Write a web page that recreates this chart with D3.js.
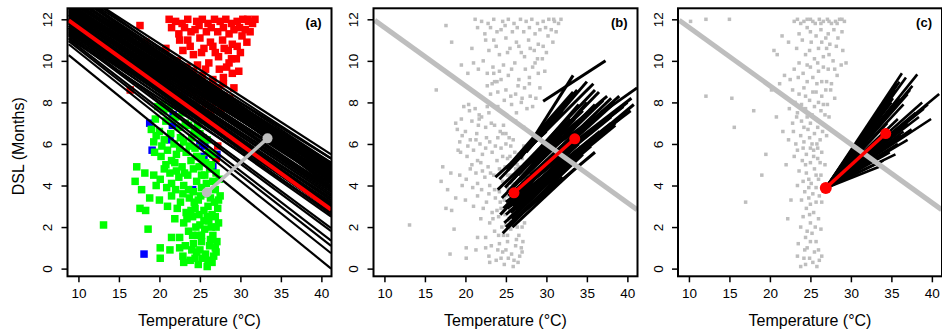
<!DOCTYPE html>
<html><head><meta charset="utf-8">
<script src="https://cdn.jsdelivr.net/npm/d3@7"></script>
<style>body{margin:0;background:#fff} svg{display:block} text{font-family:"Liberation Sans",Arial,sans-serif}</style>
</head><body><svg id="c" width="942" height="336"></svg>
<script>
// ---------- data ----------
const xLim = [8.65, 41.25];
const yLim = [-0.37, 12.53];
const xTicks = [10, 15, 20, 25, 30, 35, 40];
const yTicks = [0, 2, 4, 6, 8, 10, 12];
const panelLabels = ["(a)", "(b)", "(c)"];
const xTitle = "Temperature (\u00B0C)";
const yTitle = "DSL (Months)";

// panel (a) observations [temperature, DSL]
const redPts = [
 [22.0,11.9],[22.8,11.8],[23.5,12.0],[24.6,11.9],[25.3,12.0],[26.0,11.8],[26.8,12.0],[27.5,11.9],[28.2,12.0],[28.9,11.8],
 [29.6,11.9],[30.3,12.0],[31.0,11.9],[31.5,11.8],[30.6,11.5],[29.2,11.5],[27.2,11.4],[25.8,11.4],[24.4,11.5],
 [23.5,11.0],[25.0,11.1],[26.3,10.9],[27.8,11.0],[29.0,10.8],[30.2,11.2],[28.5,10.5],[26.9,10.4],[25.5,10.6],[24.2,10.3],[22.9,10.5],[30.0,10.4],
 [21.0,9.9],[22.2,10.0],[23.4,9.7],[24.7,9.8],[26.1,9.9],[27.4,9.6],[28.6,9.9],[29.5,10.1],[25.3,9.3],[26.6,9.1],[27.9,9.2],[29.0,9.4],[23.9,9.0],[20.3,9.4],[19.5,9.8],
 [22.7,8.8],[25.0,8.6],[26.2,8.4],[27.3,8.7],[28.0,8.3],[26.9,8.0],[28.7,8.2],[27.6,7.7],[25.7,7.9],[24.8,8.1],[27.2,6.8],[27.0,5.3],[27.2,5.9],
 [17.6,11.7],[18.3,10.9],[16.4,8.6],
 [21.5,11.6],[22.4,11.3],[23.1,11.6],[23.9,11.4],[24.9,11.7],[26.4,11.6],[27.9,11.6],[28.6,11.3],[29.9,11.6],[31.2,11.4],
 [30.8,10.9],[29.6,10.7],[28.0,10.6],[26.6,10.7],[25.2,10.4],[23.8,10.7],[22.5,11.0],[27.3,10.2],[28.9,10.1],[25.7,9.6],
 [24.2,9.5],[22.7,9.4],[21.6,9.6],[28.3,9.7],[29.8,9.5],[26.5,8.8],[27.9,8.9],[24.0,8.5],[23.3,8.9],[29.2,8.7],
 [25.6,8.3],[26.3,7.5],[28.3,7.8],[24.4,9.1],[31.8,12.0],[30.9,12.0],[21.2,12.0],[20.8,10.6]
];
const bluePts = [
 [23.5,9.4],[23.6,9.0],[23.1,8.4],[27.0,8.2],[21.7,7.4],[18.8,7.0],[21.6,6.9],[24.6,6.5],[25.0,6.0],[21.3,6.2],
 [19.1,5.7],[25.6,5.9],[25.5,5.4],[27.1,5.5],[26.6,4.9],[24.1,3.8],[18.1,0.7],[22.7,7.8],[26.2,7.1],[24.0,7.8]
];
const greenPts = [
 [19.8,7.8],[20.5,7.6],[21.2,7.7],[19.5,7.2],[20.8,7.1],[22.0,7.3],[22.9,7.5],[19.0,6.7],[20.0,6.6],[21.4,6.5],
 [22.5,6.8],[23.6,6.9],[24.3,6.6],[19.3,6.1],[20.6,6.2],[21.8,6.0],[23.0,6.1],[24.0,6.3],[25.0,6.5],[25.9,6.2],
 [19.4,5.6],[20.2,5.4],[21.0,5.7],[22.1,5.5],[23.3,5.6],[24.4,5.8],[25.2,5.3],[26.1,5.6],[20.8,5.0],[21.9,5.1],
 [22.8,4.9],[23.9,5.2],[24.9,4.9],[26.4,5.0],[27.0,4.6],
 [18.2,4.6],[17.2,4.9],[19.3,4.5],[20.1,4.3],[21.3,4.6],[22.4,4.4],[23.5,4.5],[24.6,4.2],[25.6,4.5],[26.6,4.2],
 [17.0,4.2],[17.8,3.8],[20.9,3.9],[22.0,3.8],[23.0,4.0],[24.2,3.7],[25.2,3.9],[26.9,3.8],[27.4,4.3],
 [18.8,3.4],[20.0,3.3],[21.5,3.5],[22.6,3.2],[23.7,3.4],[24.8,3.3],[25.8,3.6],[26.8,3.2],[27.5,3.5],[17.6,2.9],
 [18.3,2.8],[21.0,3.0],[22.2,2.9],[23.3,2.7],[24.4,2.9],[25.5,2.8],[26.5,2.6],[27.2,2.9],
 [13.1,2.1],[18.6,1.9],[21.9,2.4],[23.0,2.2],[24.1,2.5],[25.0,2.1],[26.1,2.3],[27.0,2.0],[23.6,1.8],[24.7,1.6],
 [25.6,1.9],[26.6,1.6],[22.5,1.5],[21.5,1.5],
 [21.3,0.9],[23.2,1.1],[24.2,1.2],[25.2,1.3],[26.2,1.1],[27.1,1.3],[24.6,0.8],[25.7,0.7],[26.7,0.6],[20.1,1.0],
 [20.1,0.5],[23.8,0.4],[24.8,0.2],[25.9,0.1],[26.5,0.3],[25.3,0.5],[22.9,0.6],
 [20.4,7.9],[21.7,7.2],[23.2,7.0],[24.7,6.9],[25.4,6.3],[22.6,6.3],[19.6,6.4],[20.3,5.9],[21.5,5.2],[22.5,5.8],
 [23.7,5.9],[24.6,5.4],[25.7,5.1],[26.6,5.5],[20.6,4.8],[22.1,4.7],[23.1,4.6],[24.2,4.8],[25.2,4.5],[26.2,4.8],
 [19.6,4.0],[21.5,4.1],[23.6,3.8],[25.8,4.1],[26.3,3.4],[22.9,3.6],[24.3,3.2],[25.1,3.5],[26.0,3.0],[27.3,3.3],
 [23.9,2.8],[24.9,2.6],[25.9,2.5],[26.9,2.5],[23.4,2.4],[24.5,2.0],[25.5,2.3],[26.4,2.0],[27.3,2.2],[24.1,1.6],
 [25.2,1.6],[26.3,1.4],[26.9,1.0],[24.0,0.9],[25.0,0.9],[26.0,0.4],[24.4,0.5],[27.0,0.8],[22.5,1.0],[23.0,0.3]
];

// panel (c) observations [temperature, DSL]
const ptsC = [
 [10.2,11.9],[12.1,12.0],[15.0,12.0],[12.1,8.3],[15.3,8.2],[15.6,6.8],[18.0,7.6],[19.5,5.5],[19.0,4.5],[17.0,3.2],
 [21.5,11.2],[20.5,10.5],[20.9,10.3],[20.2,8.6],[21.2,8.9],[21.8,9.3],[22.3,10.9],[20.8,7.3],[21.6,6.6],[22.3,6.2],
 [22.0,5.0],[22.6,3.3],[22.2,2.4],
 [23.4,12.0],[24.2,11.9],[25.0,12.0],[25.6,11.8],[26.1,12.0],[26.6,11.9],[27.1,12.0],[27.6,11.8],[28.1,11.9],[28.6,12.0],
 [29.2,11.9],[24.6,11.6],[26.3,11.5],[27.9,11.5],[28.9,11.4],[23.6,11.3],
 [26.9,11.1],[27.4,10.8],[25.1,10.9],[26.0,10.6],[28.2,10.7],[29.0,10.5],[24.4,10.3],[25.5,10.1],[26.6,10.2],[27.8,10.0],[23.3,10.6],[29.4,9.9],
 [23.0,9.6],[24.1,9.4],[25.0,9.7],[26.0,9.5],[27.2,9.6],[28.3,9.3],[24.6,9.0],[25.8,8.9],[27.0,9.0],[22.5,9.1],[28.8,9.8],
 [22.8,8.6],[23.6,8.4],[24.2,8.7],[25.3,8.5],[26.4,8.3],[27.5,8.6],[24.9,8.1],[26.0,8.0],[27.1,7.9],[28.0,8.2],[23.1,8.0],
 [22.4,7.7],[23.4,7.5],[24.4,7.7],[25.2,7.4],[26.3,7.6],[27.3,7.3],[23.9,7.1],[25.0,7.0],[26.0,7.1],[22.8,7.0],
 [22.9,6.6],[23.8,6.4],[24.7,6.7],[25.5,6.5],[26.5,6.6],[24.2,6.1],[25.2,6.0],[26.2,6.2],[23.2,6.0],[27.0,6.4],
 [23.4,5.7],[24.5,5.5],[25.4,5.7],[26.4,5.6],[24.0,5.2],[25.0,5.1],[25.9,5.3],[26.8,5.0],[23.0,5.4],
 [23.6,4.7],[24.5,4.6],[25.5,4.8],[26.3,4.5],[24.1,4.2],[25.1,4.1],[26.0,4.3],[23.4,4.0],[26.7,4.0],
 [24.3,3.7],[25.3,3.6],[26.1,3.5],[23.9,3.3],[25.0,3.1],[26.4,3.2],[24.5,2.9],
 [25.4,2.7],[24.1,2.5],[26.0,2.4],[25.0,2.2],[23.8,2.0],[26.3,1.9],
 [25.2,1.7],[24.4,1.5],[23.5,1.2],[25.7,1.3],[24.6,1.0],[26.0,0.9],[23.4,0.6],[24.9,0.5],[26.4,0.6],[23.8,0.1],[25.8,0.1],[25.3,0.3],[24.4,0.2],
 [23.0,11.9],[23.8,11.8],[24.6,12.0],[25.3,11.9],[26.3,11.8],[27.3,11.9],[28.3,11.8],[28.9,12.0],[25.0,11.4],[27.2,11.3],
 [25.7,11.2],[24.0,11.0],[28.4,11.1],[26.4,10.9],[24.9,10.5],[27.0,10.6],[27.3,10.3],[25.9,9.9],[24.6,9.8],[23.6,9.9],
 [26.6,9.7],[28.0,9.6],[23.5,9.2],[25.3,9.2],[26.4,9.0],[27.6,8.9],[24.4,8.3],[25.7,8.5],[26.9,8.6],[23.9,7.9],
 [25.5,7.8],[26.6,7.9],[24.6,7.3],[25.7,7.2],[26.8,7.4],[23.3,7.3],[24.2,6.8],[25.9,6.8],[24.9,6.3],[25.8,6.0],
 [24.1,5.8],[25.0,5.8],[25.9,5.8],[24.4,5.0],[25.4,5.4],[26.2,5.1],[24.8,4.3],[25.7,4.5],[24.8,3.9],[25.7,3.9],
 [24.8,3.4],[25.7,3.2],[24.9,2.6],[25.6,2.0],[24.6,1.8],[25.0,1.3],[25.5,0.8],[24.3,0.9],[26.1,0.4],[24.2,0.5]
];

// overall regression line: DSL at the two temperatures in lineTemps
const lineTemps = [8.8, 41.2];
const mainFit = [11.95, 2.84];
// panel (a) fitted lines: [DSL at 8.8 °C, DSL at 41.2 °C]
const fitsA = [
 [13.65,5.5],[13.4,5.1],[13.2,5.0],[13.0,4.9],[12.9,4.7],[12.7,4.6],[12.6,4.4],[12.5,4.3],[12.4,4.1],[12.3,3.9],
 [12.2,3.8],[12.1,3.6],[12.0,3.5],[11.9,3.3],[11.8,3.1],[11.7,3.0],[11.6,2.9],[11.5,2.8],[11.6,3.4],[11.8,3.8],
 [12.2,4.5],[12.6,4.9],[13.1,5.3],[12.8,4.2],[13.4,4.6],[13.6,3.9],[13.5,4.3],[13.3,4.0],
 [11.1,2.7],[11.25,2.9],[11.35,3.1],[11.45,3.2],[11.55,3.0],[11.7,3.3],[11.85,3.5],[11.95,3.7],[12.05,3.9],[12.15,4.1],
 [12.25,4.2],[12.35,4.4],[12.45,4.6],[12.55,4.7],[12.65,4.8],[12.75,4.9],[12.85,5.0],[12.95,5.1],[13.05,4.5],[13.15,4.7],
 [13.25,4.3],[13.35,4.9],[13.5,5.3],[13.7,4.8],[12.0,3.1],[11.6,2.6],
 [11.4,2.5],[11.3,1.95],[11.2,1.8],[11.05,1.35],[10.95,1.1],[10.8,0.74],[10.28,0.0]
];
// panel (b) fitted segments: [T1, DSL1, T2, DSL2]
const segsB = [
 [24.6,1.7,33.0,5.0],[24.8,2.2,35.0,5.8],[25.0,2.6,36.5,6.5],[25.2,2.9,34.0,6.0],[25.0,3.2,38.0,7.3],
 [25.5,3.0,39.0,7.2],[25.3,3.5,37.0,7.6],[25.8,3.3,40.4,7.6],[25.6,3.8,36.0,7.9],[26.0,3.6,38.5,8.0],
 [26.2,2.8,33.5,5.3],[26.5,2.5,32.0,4.4],[26.8,3.0,35.5,5.9],[26.1,4.0,35.0,8.0],[25.9,4.3,34.0,7.9],
 [23.7,4.4,30.0,6.6],[24.2,4.3,31.5,7.3],[25.0,4.8,33.3,8.5],[25.5,4.9,35.8,8.9],[26.3,4.6,37.5,8.3],
 [27.0,4.8,41.2,8.7],[27.0,4.0,39.5,7.8],[27.5,4.3,40.5,8.2],[26.8,5.3,33.3,9.3],[27.2,5.0,36.0,8.6],
 [29.6,8.06,37.3,10.0],[25.4,4.1,30.0,6.0],[24.9,3.9,31.0,6.5],[26.7,3.5,38.0,7.0],[27.8,3.8,36.6,6.6],
 [28.0,4.5,39.0,8.3],[26.4,3.1,34.5,5.8],[25.7,2.4,31.5,4.6],[24.7,2.9,30.5,5.2],[26.0,5.2,32.0,7.6],[28.5,5.3,34.5,7.6],
 [25.0,2.0,34.5,5.5],[25.3,2.4,36.0,6.2],[25.6,2.7,37.5,6.8],[25.9,3.0,38.5,7.0],[26.1,3.3,39.5,7.4],
 [26.3,3.6,40.0,8.0],[26.5,3.9,38.0,8.2],[26.7,4.2,37.0,8.1],[25.2,3.7,33.5,7.2],[24.5,3.4,32.0,6.4],
 [24.3,2.6,31.0,5.3],[25.8,2.0,33.5,4.8],[26.8,2.6,36.0,5.6],[27.2,3.3,38.5,6.9],[27.6,3.6,40.8,7.9],
 [24.0,3.8,33.0,7.2],[26.5,4.5,36.5,8.5],[27.5,5.6,35.0,9.0],[28.0,6.0,33.8,8.6]
];
// panel (c) fan: common origin and end points [T, DSL]
const fanOrigin = [26.9, 3.88];
const fanEnds = [
 [36.3,9.4],[36.0,9.0],[35.5,8.6],[38.2,9.35],[37.6,8.8],[37.0,8.4],[36.5,7.9],[35.0,7.6],[34.5,7.0],[40.9,8.4],
 [39.0,7.7],[38.4,7.3],[39.9,7.2],[37.5,6.7],[36.2,6.4],[35.8,6.0],[34.8,5.6],[34.0,5.2],[33.5,4.9],[35.5,5.5],
 [37.0,6.2],[34.2,6.5],[33.0,6.0],[32.5,5.5],[33.8,7.4],[35.2,8.2],
 [35.7,8.9],[36.8,9.2],[37.3,8.6],[36.0,8.2],[35.0,8.0],[34.0,7.8],[38.8,8.0],[39.5,7.9],[38.0,7.5],[37.0,7.0],
 [36.0,6.8],[35.0,6.6],[34.0,6.2],[33.5,5.8],[34.5,5.9],[36.5,6.6],[35.8,7.2]
];
// mean shift segments [T1, DSL1, T2, DSL2]
const shiftA = [25.85, 3.66, 33.35, 6.27];
const shiftB = [26.0, 3.65, 33.5, 6.25];
const shiftC = [26.9, 3.88, 34.3, 6.5];

// ---------- drawing ----------
const svg = d3.select("#c");
const W = 264, H = 268, TOP = 8.3;
const lefts = [67.5, 373.5, 678];
const GRAY = "#bebebe";

function makePanel(i) {
  const g = svg.append("g").attr("transform", `translate(${lefts[i]},${TOP})`);
  const x = d3.scaleLinear().domain(xLim).range([0, W]);
  const y = d3.scaleLinear().domain(yLim).range([H, 0]);
  svg.append("clipPath").attr("id", "clip" + i).append("rect").attr("width", W).attr("height", H);
  const plot = g.append("g").attr("clip-path", `url(#clip${i})`);
  return { g, x, y, plot };
}

function finishPanel(p, i) {
  const { g, x, y } = p;
  const ax = g.append("g").attr("transform", `translate(0,${H})`)
    .call(d3.axisBottom(x).tickValues(xTicks).tickSize(6).tickSizeOuter(0));
  ax.select(".domain").remove();
  ax.selectAll(".tick line").attr("stroke", "#000").attr("stroke-width", 1.5);
  ax.selectAll(".tick text").attr("y", 22).attr("dy", 0).attr("font-size", 13.5).attr("fill", "#000");
  const ay = g.append("g").call(d3.axisLeft(y).tickValues(yTicks).tickSize(6).tickSizeOuter(0));
  ay.select(".domain").remove();
  ay.selectAll(".tick line").attr("stroke", "#000").attr("stroke-width", 1.5);
  ay.selectAll(".tick text").attr("transform", "rotate(-90)").attr("x", 0).attr("y", -15.5)
    .attr("dy", 0).attr("text-anchor", "middle").attr("font-size", 13.5).attr("fill", "#000");
  g.append("rect").attr("width", W).attr("height", H).attr("fill", "none")
    .attr("stroke", "#000").attr("stroke-width", 2);
  g.append("text").attr("x", W - 10).attr("y", 19).attr("text-anchor", "end")
    .attr("font-size", 13).attr("font-weight", "bold").text(panelLabels[i]);
  g.append("text").attr("x", W / 2).attr("y", 326 - TOP).attr("text-anchor", "middle")
    .attr("font-size", 16).text(xTitle);
}

function squares(plot, x, y, pts, color, s) {
  plot.append("g").selectAll("rect").data(pts).join("rect")
    .attr("x", d => x(d[0]) - s / 2).attr("y", d => y(d[1]) - s / 2)
    .attr("width", s).attr("height", s).attr("fill", color);
}
function seg(plot, x, y, s, color, w) {
  plot.append("line").attr("x1", x(s[0])).attr("y1", y(s[1])).attr("x2", x(s[2])).attr("y2", y(s[3]))
    .attr("stroke", color).attr("stroke-width", w);
}
function shift(plot, x, y, s, color, r0, r1) {
  seg(plot, x, y, s, color, 3.5);
  plot.append("circle").attr("cx", x(s[0])).attr("cy", y(s[1])).attr("r", r0).attr("fill", color);
  plot.append("circle").attr("cx", x(s[2])).attr("cy", y(s[3])).attr("r", r1).attr("fill", color);
}
const mainSeg = [lineTemps[0], mainFit[0], lineTemps[1], mainFit[1]];

// Panel a
{
  const p = makePanel(0);
  const { plot, x, y } = p;
  squares(plot, x, y, redPts, "#ff0000", 7.5);
  squares(plot, x, y, bluePts, "#0000ff", 7.5);
  squares(plot, x, y, greenPts, "#00ff00", 7.5);
  fitsA.forEach(f => seg(plot, x, y, [lineTemps[0], f[0], lineTemps[1], f[1]], "#000", 2.2));
  seg(plot, x, y, mainSeg, "#ff0000", 4);
  shift(plot, x, y, shiftA, GRAY, 5, 5);
  finishPanel(p, 0);
}
// Panel b
{
  const p = makePanel(1);
  const { plot, x, y } = p;
  squares(plot, x, y, redPts.concat(bluePts, greenPts), GRAY, 3.5);
  segsB.forEach(s => seg(plot, x, y, s, "#000", 3));
  seg(plot, x, y, mainSeg, GRAY, 5);
  shift(plot, x, y, shiftB, "#ff0000", 5.5, 5.5);
  finishPanel(p, 1);
}
// Panel c
{
  const p = makePanel(2);
  const { plot, x, y } = p;
  squares(plot, x, y, ptsC, GRAY, 3.5);
  fanEnds.forEach(e => seg(plot, x, y, [fanOrigin[0], fanOrigin[1], e[0], e[1]], "#000", 2.6));
  seg(plot, x, y, mainSeg, GRAY, 5);
  shift(plot, x, y, shiftC, "#ff0000", 6, 5.5);
  finishPanel(p, 2);
}
// y title
svg.append("text").attr("transform", `translate(24,${TOP + H / 2 + 4}) rotate(-90)`)
  .attr("text-anchor", "middle").attr("font-size", 16).text(yTitle);
</script></body></html>
